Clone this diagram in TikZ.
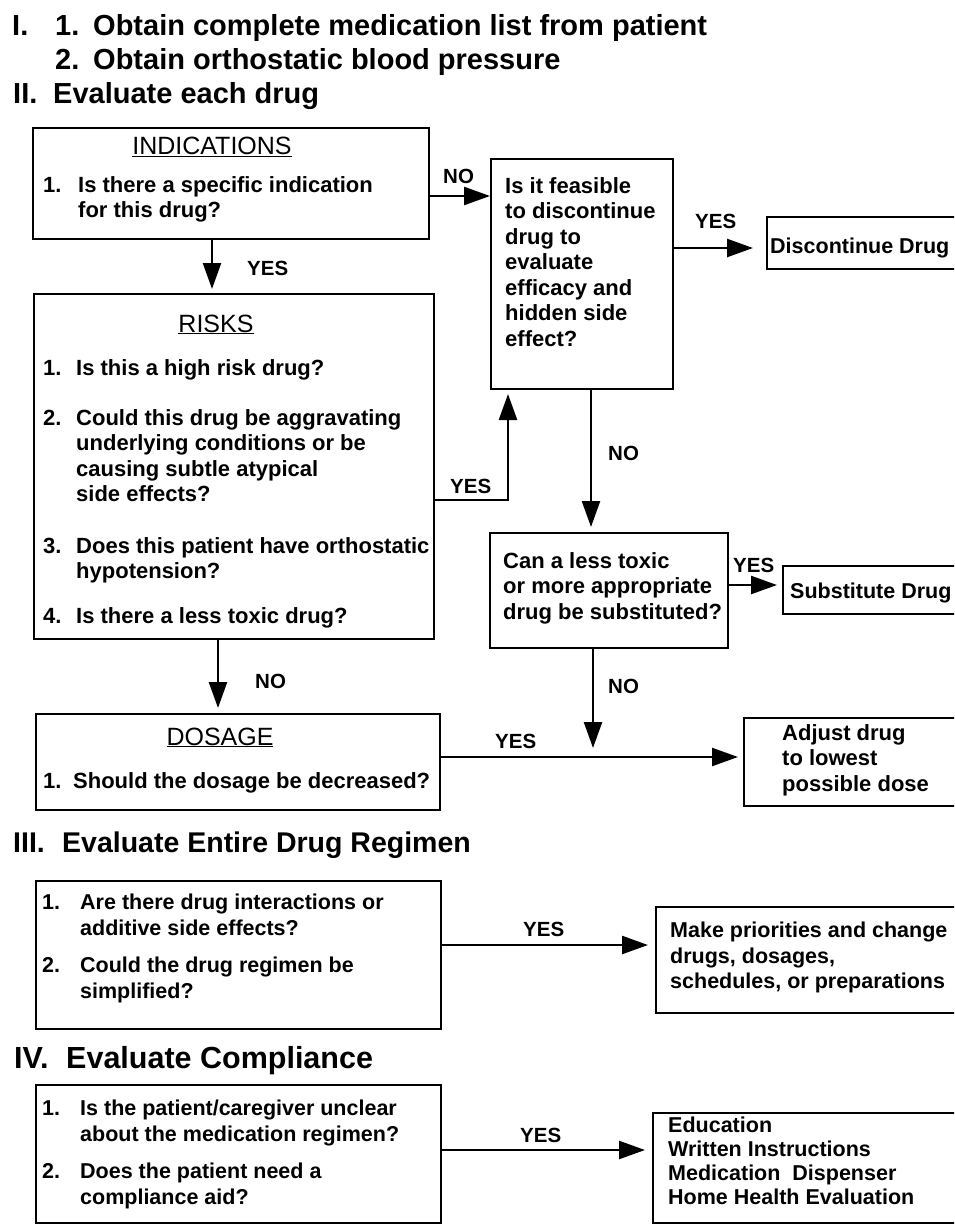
\documentclass[tikz,border=0pt]{standalone}
\usepackage{fontspec}
\setmainfont{Liberation Sans}
\usetikzlibrary{arrows.meta}
\begin{document}
\begin{tikzpicture}[x=1pt,y=-1pt,
  box/.style={draw, line width=2pt, inner sep=0pt, anchor=north west},
  arr/.style={line width=2.4pt, -{Triangle[length=26pt,width=18pt]}},
  hdr/.style={font=\fontsize{29}{34}\selectfont\bfseries, inner sep=0pt, anchor=base west},
  txt/.style={font=\fontsize{22}{25.5}\selectfont\bfseries, inner sep=0pt, align=left,
    anchor=north west, yshift=17.85pt, execute at begin node=\strut},
  txtb/.style={txt, font=\fontsize{21.5}{25.5}\selectfont\bfseries},
  ttl/.style={font=\fontsize{25}{28}\selectfont, inner sep=0pt, anchor=base},
  lbl/.style={font=\fontsize{20.5}{24}\selectfont\bfseries, inner sep=0pt, anchor=base west}]

\useasboundingbox (0,0) rectangle (954,1225);
\clip (0,0) rectangle (954,1225);
\fill[white] (0,0) rectangle (954,1225);

% ---------- headers ----------
\node[hdr] (h1) at (12,36) {I.};
\node[hdr] (h1a) at (55,36) {\makebox[38pt][l]{1.}Obtain complete medication list from patient};
\node[hdr] (h1b) at (55,70) {\makebox[38pt][l]{2.}Obtain orthostatic blood pressure};
\node[hdr] (h2) at (13,104) {\makebox[40pt][l]{II.}Evaluate each drug};
\node[hdr, font=\fontsize{28.5}{34}\selectfont\bfseries] (h3) at (13,852) {\makebox[49pt][l]{III.}Evaluate Entire Drug Regimen};
\node[hdr, font=\fontsize{30.5}{34}\selectfont\bfseries] (h4) at (14,1068) {\makebox[52pt][l]{IV.}Evaluate Compliance};

% ---------- boxes ----------
\node[box, minimum width=396pt, minimum height=111pt] (ind) at (32,127) {};
\node[box, minimum width=182pt, minimum height=230pt] (feas) at (490,158) {};
\node[box, minimum width=220pt, minimum height=52pt] (disc) at (766,216) {};
\node[box, minimum width=400pt, minimum height=345pt] (risk) at (33,293) {};
\node[box, minimum width=238pt, minimum height=115pt] (cans) at (489,532) {};
\node[box, minimum width=200pt, minimum height=48pt] (subst) at (782,565) {};
\node[box, minimum width=404pt, minimum height=96pt] (dos) at (35,713) {};
\node[box, minimum width=240pt, minimum height=88pt] (adj) at (743,717) {};
\node[box, minimum width=405pt, minimum height=148pt] (reg) at (35,880) {};
\node[box, minimum width=330pt, minimum height=106pt] (pri) at (655,906) {};
\node[box, minimum width=405pt, minimum height=138pt] (comp) at (35,1084) {};
\node[box, minimum width=330pt, minimum height=110pt] (edu) at (652,1112) {};

% ---------- box texts ----------
\node[ttl] (tind) at (212,155) {\underline{INDICATIONS}};
\node[txt] (ind1) at (43,194) {\makebox[35pt][l]{1.}Is there a specific indication\\\hspace*{35pt}for this drug?};

\node[ttl] (trisk) at (216,332) {\underline{RISKS}};
\node[txt] (risk1) at (43,375) {\makebox[33pt][l]{1.}Is this a high risk drug?};
\node[txt] (risk2) at (43,427) {\makebox[33pt][l]{2.}Could this drug be aggravating\\\hspace*{33pt}underlying conditions or be\\\hspace*{33pt}causing subtle atypical\\\hspace*{33pt}side effects?};
\node[txt] (risk3) at (43,555) {\makebox[33pt][l]{3.}Does this patient have orthostatic\\\hspace*{33pt}hypotension?};
\node[txt] (risk4) at (43,623) {\makebox[33pt][l]{4.}Is there a less toxic drug?};

\node[txt] (feast) at (505,195) {Is it feasible\\to discontinue\\drug to\\evaluate\\efficacy and\\hidden side\\effect?};
\node[txtb] (disct) at (770,253) {Discontinue Drug};
\node[txt] (canst) at (503,570) {Can a less toxic\\or more appropriate\\drug be substituted?};
\node[txtb] (substt) at (790,598) {Substitute Drug};

\node[ttl] (tdos) at (220,745) {\underline{DOSAGE}};
\node[txt] (dos1) at (43,788) {\makebox[30pt][l]{1.}Should the dosage be decreased?};
\node[txt] (adjt) at (782,742) {Adjust drug\\to lowest\\possible dose};

\node[txtb] (reg1) at (42,912) {\makebox[38pt][l]{1.}Are there drug interactions or\\\hspace*{38pt}additive side effects?};
\node[txtb] (reg2) at (42,975) {\makebox[38pt][l]{2.}Could the drug regimen be\\\hspace*{38pt}simplified?};
\node[txtb] (prit) at (670,940) {Make priorities and change\\drugs, dosages,\\schedules, or preparations};

\node[txtb] (comp1) at (42,1118) {\makebox[38pt][l]{1.}Is the patient/caregiver unclear\\\hspace*{38pt}about the medication regimen?};
\node[txtb] (comp2) at (42,1181) {\makebox[38pt][l]{2.}Does the patient need a\\\hspace*{38pt}compliance aid?};
\node[txtb, font=\fontsize{21.5}{24}\selectfont\bfseries, yshift=-0.65pt] (edut) at (668,1134) {Education\\Written Instructions\\Medication\ \ Dispenser\\Home Health Evaluation};

% ---------- connectors ----------
\coordinate (j) at (593,757);
\draw[arr] (ind.east |- 0,196) -- (feas.west |- 0,196);
\draw[arr] (ind.south -| 212,0) -- ++(0,49) coordinate (e1);
\draw[arr, shorten >=13pt] (feas.east |- 0,248) -- (disc.west |- 0,248);
\draw[arr, shorten >=4pt] (risk.east |- 0,500) -| (feas.south -| 508,0);
\draw[arr, shorten >=5pt] (feas.south -| 591,0) -- (cans.north -| 591,0);
\draw[arr, shorten >=5pt] (cans.east |- 0,585) -- (subst.west |- 0,585);
\draw[arr, shorten >=9pt] (cans.south -| j) -- (j);
\draw[arr, shorten >=5pt] (risk.south -| 218,0) -- (dos.north -| 218,0);
\draw[arr, shorten >=5pt] (dos.east |- j) -- (adj.west |- j);
\draw[arr, shorten >=7pt] (reg.east |- 0,945) -- (pri.west |- 0,945);
\draw[arr, shorten >=7pt] (comp.east |- 0,1150) -- (edu.west |- 0,1150);

% ---------- connector labels ----------
\node[lbl] (lno1) at (443,183) {NO};
\node[lbl] (lyes1) at (247,275) {YES};
\node[lbl] (lyes2) at (695,228) {YES};
\node[lbl] (lyes3) at (450,493) {YES};
\node[lbl] (lno2) at (608,460) {NO};
\node[lbl] (lyes4) at (733,572) {YES};
\node[lbl] (lno3) at (608,693) {NO};
\node[lbl] (lno4) at (255,688) {NO};
\node[lbl] (lyes5) at (495,748) {YES};
\node[lbl] (lyes6) at (523,936) {YES};
\node[lbl] (lyes7) at (520,1142) {YES};
\end{tikzpicture}
\end{document}
